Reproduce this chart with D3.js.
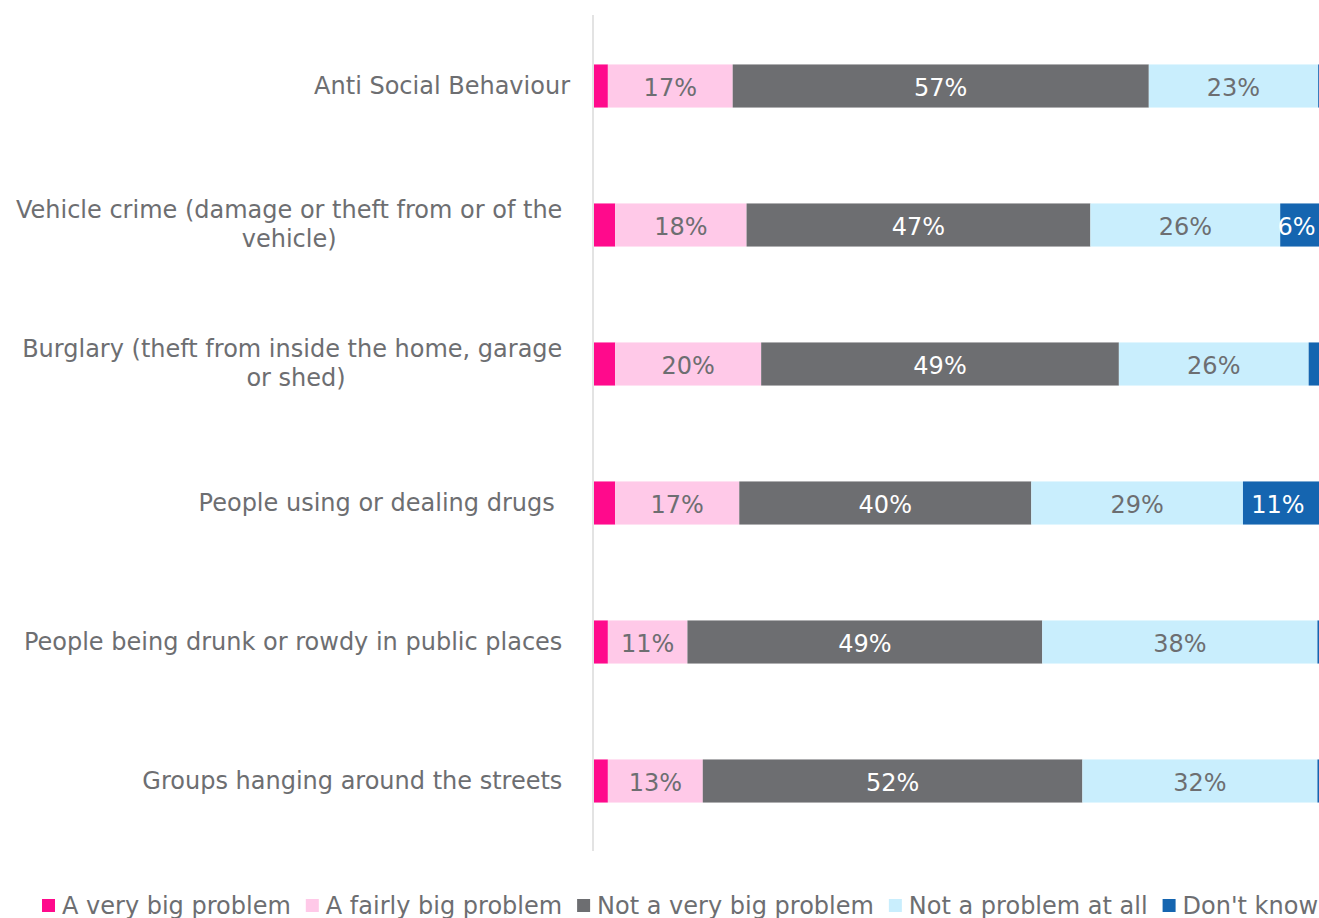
<!DOCTYPE html>
<html>
<head>
<meta charset="utf-8">
<script src="https://cdn.jsdelivr.net/npm/d3@7"></script>
<style>
  html, body { margin: 0; padding: 0; background: #fff; }
  svg { display: block; }
  text { font-family: "DejaVu Sans", Verdana, sans-serif; white-space: pre; }
</style>
</head>
<body>
<svg id="chart" width="1319" height="918"></svg>
<script>
// ---- data ----
const categories = [
  "Anti Social Behaviour",
  "Vehicle crime (damage or theft from or of the vehicle) ",
  "Burglary (theft from inside the home, garage or shed)",
  "People using or dealing drugs  ",
  "People being drunk or rowdy in public places ",
  "Groups hanging around the streets "
];
const seriesNames = ["A very big problem", "A fairly big problem", "Not a very big problem", "Not a problem at all", "Don't know"];
const veryBig    = [1.9, 2.9, 2.9, 2.9, 1.9, 1.9];
const fairlyBig  = [17.1, 18.0, 20.0, 17.0, 10.9, 13.0];
const notVeryBig = [57.0, 47.1, 49.0, 40.0, 48.6, 52.0];
const notAtAll   = [23.2, 26.0, 26.0, 29.0, 37.7, 32.2];
const dontKnow   = [0.8, 6.0, 2.1, 11.1, 0.9, 0.9];
const colors     = ["#FF0A8C", "#FFC9E8", "#6D6E71", "#C9EEFD", "#1565B0"];
const labelColors = ["#6D6E71", "#6D6E71", "#FFFFFF", "#6D6E71", "#FFFFFF"];

const seriesValues = [veryBig, fairlyBig, notVeryBig, notAtAll, dontKnow];
const rows = categories.map((c, i) => {
  const r = { cat: c };
  seriesNames.forEach((s, j) => r[s] = seriesValues[j][i]);
  return r;
});

// ---- layout ----
const W = 1319, H = 918;
const svg = d3.select("#chart");
const textColor = "#6D6E71";
const fontSize = 24;

const x = d3.scaleLinear().domain([0, 100]).range([594, 1324]);
const y = d3.scaleBand().domain(categories).range([16.5, 850.5]).paddingInner(0.69).paddingOuter(0.345);

const stack = d3.stack().keys(seriesNames);
const stacked = stack(rows);

// axis line (category axis)
svg.append("line")
  .attr("x1", 593).attr("x2", 593)
  .attr("y1", 15).attr("y2", 851)
  .attr("stroke", "#E3E3E3").attr("stroke-width", 2);

// bars
const g = svg.append("g");
stacked.forEach((layer, j) => {
  const lg = g.append("g");
  lg.selectAll("rect").data(layer).join("rect")
    .attr("x", d => x(d[0]))
    .attr("width", d => x(d[1]) - x(d[0]))
    .attr("y", d => y(d.data.cat))
    .attr("height", y.bandwidth())
    .attr("fill", colors[j]);
  lg.selectAll("text").data(layer.filter(d => (d[1] - d[0]) >= 5)).join("text")
    .attr("x", d => (x(d[0]) + Math.min(x(d[1]), W)) / 2 - (x(d[1]) > W ? 3 : 0))
    .attr("y", d => y(d.data.cat) + y.bandwidth() / 2 + 10)
    .attr("text-anchor", "middle")
    .attr("font-size", fontSize)
    .attr("fill", labelColors[j])
    .text(d => Math.round(d[1] - d[0]) + "%");
});

// category labels (wrapped, block right-aligned at 570, lines centered)
const labelRight = 570, wrapWidth = 566, lineH = 29;
const measure = svg.append("text").attr("font-size", fontSize).attr("visibility", "hidden");
function tw(s) { measure.text(s); return measure.node().getComputedTextLength(); }
function wrap(s) {
  const words = s.split(" ");
  const lines = [];
  let cur = "";
  words.forEach((w, i) => {
    const trial = cur === "" ? w : cur + " " + w;
    if (cur !== "" && tw(trial.trimEnd()) > wrapWidth) {
      lines.push(cur + " ");
      cur = w;
    } else {
      cur = trial;
    }
  });
  lines.push(cur);
  return lines;
}
categories.forEach(c => {
  const lines = wrap(c);
  const cy = y(c) + y.bandwidth() / 2;
  if (lines.length === 1) {
    svg.append("text")
      .attr("x", labelRight).attr("y", cy + 7.5)
      .attr("text-anchor", "end")
      .attr("font-size", fontSize).attr("fill", textColor)
      .text(lines[0]);
  } else {
    const maxW = d3.max(lines, l => tw(l));
    const cx = labelRight - maxW / 2;
    lines.forEach((l, k) => {
      svg.append("text")
        .attr("x", cx)
        .attr("y", cy + 7.5 + (k - (lines.length - 1) / 2) * lineH)
        .attr("text-anchor", "middle")
        .attr("font-size", fontSize).attr("fill", textColor)
        .text(l);
    });
  }
});
measure.remove();

// legend
const lg = svg.append("g");
let lx = 42;
seriesNames.forEach((s, j) => {
  lg.append("rect").attr("x", lx).attr("y", 899).attr("width", 13).attr("height", 13).attr("fill", colors[j]);
  const t = lg.append("text").attr("x", lx + 20).attr("y", 914)
    .attr("font-size", fontSize).attr("fill", textColor).text(s);
  lx = lx + 20 + t.node().getComputedTextLength() + 15;
});
</script>
</body>
</html>
